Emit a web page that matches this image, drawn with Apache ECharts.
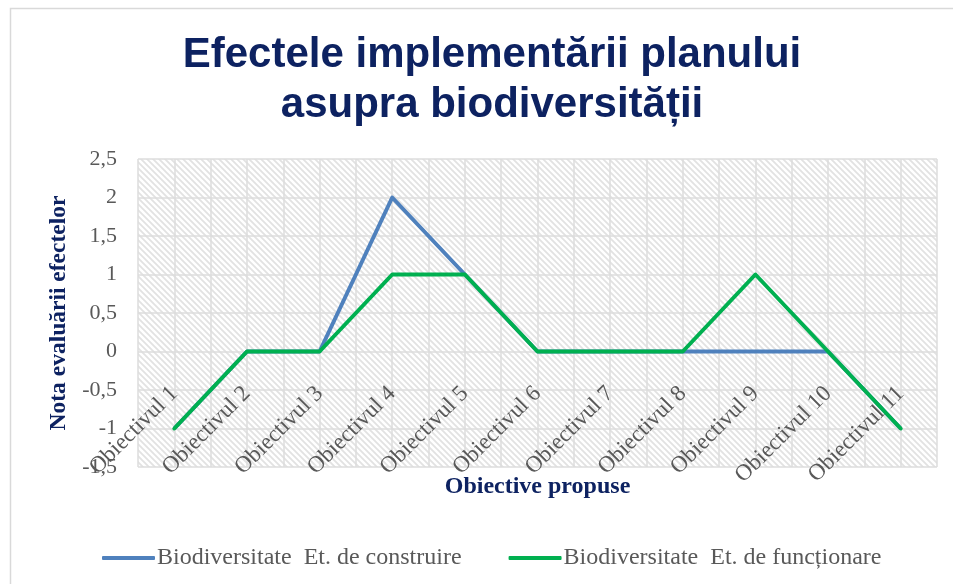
<!DOCTYPE html>
<html>
<head>
<meta charset="utf-8">
<script src="https://cdn.jsdelivr.net/npm/echarts@6/dist/echarts.min.js"></script>
<style>
  html, body { margin: 0; padding: 0; background: #fff; }
  #chart { width: 953px; height: 584px; }
</style>
</head>
<body>
<div id="chart"></div>
<script>
var objectives = ['Obiectivul 1', 'Obiectivul 2', 'Obiectivul 3', 'Obiectivul 4', 'Obiectivul 5',
    'Obiectivul 6', 'Obiectivul 7', 'Obiectivul 8', 'Obiectivul 9', 'Obiectivul 10', 'Obiectivul 11'];
var construire = [-1, 0, 0, 2, 1, 0, 0, 0, 0, 0, -1];
var functionare = [-1, 0, 0, 1, 1, 0, 0, 0, 1, 0, -1];
var halfSlots = ['', '', '', '', '', '', '', '', '', '', '', '', '', '', '', '', '', '', '', '', '', ''];

// hatched plot background (downward diagonal)
function hatch() {
    var s = 6;
    var c = document.createElement('canvas');
    c.width = s; c.height = s;
    var ctx = c.getContext('2d');
    ctx.fillStyle = '#ffffff';
    ctx.fillRect(0, 0, s, s);
    ctx.strokeStyle = '#e2e2e2';
    ctx.lineWidth = 1.8;
    ctx.beginPath();
    ctx.moveTo(-s, 0); ctx.lineTo(s, 2 * s);
    ctx.moveTo(0, 0); ctx.lineTo(s, s);
    ctx.moveTo(0, -s); ctx.lineTo(2 * s, s);
    ctx.stroke();
    return c;
}

var serif = '"Liberation Serif", "Times New Roman", serif';
var navy = '#0d2261';

var myChart = echarts.init(document.getElementById('chart'));
var option = {
    animation: false,
    backgroundColor: '#ffffff',
    title: {
        text: 'Efectele implementării planului\nasupra biodiversității',
        left: 487,
        top: 25,
        textAlign: 'center',
        textStyle: {
            fontFamily: '"Liberation Sans", Arial, sans-serif',
            fontWeight: 'bold',
            fontSize: 42,
            lineHeight: 50,
            color: navy
        }
    },
    graphic: [{
        type: 'rect',
        shape: {x: 10.5, y: 8.5, width: 960, height: 600},
        style: {fill: 'none', stroke: '#d9d9d9', lineWidth: 1.5},
        silent: true
    }],
    legend: {
        left: 97,
        top: 541,
        itemWidth: 53,
        itemHeight: 4,
        itemGap: 47,
        icon: 'roundRect',
        textStyle: {fontFamily: serif, fontSize: 24, color: '#595959', padding: [0, 0, 0, -3]},
        data: ['Biodiversitate  Et. de construire', 'Biodiversitate  Et. de funcționare']
    },
    grid: {
        left: 138, right: 16, top: 159, bottom: 117,
        outerBoundsMode: 'none',
        containLabel: false,
        show: true,
        borderWidth: 0,
        backgroundColor: {image: hatch(), repeat: 'repeat'}
    },
    xAxis: [
        {
            type: 'category',
            data: objectives,
            position: 'bottom',
            name: 'Obiective propuse',
            nameLocation: 'middle',
            nameGap: 8,
            nameMoveOverlap: false,
            nameTextStyle: {fontFamily: serif, fontWeight: 'bold', fontSize: 24, color: navy},
            axisLine: {show: false, onZero: false},
            axisTick: {show: false},
            axisLabel: {
                rotate: 45,
                margin: -77,
                interval: 0,
                fontFamily: serif,
                fontSize: 23,
                color: '#595959'
            },
            splitLine: {show: false}
        },
        {
            type: 'category',
            data: halfSlots,
            position: 'bottom',
            axisLine: {show: false, onZero: false},
            axisTick: {show: false},
            axisLabel: {show: false},
            splitLine: {show: true, lineStyle: {color: '#dcdcdc', width: 1.5}}
        }
    ],
    yAxis: {
        type: 'value',
        min: -1.5,
        max: 2.5,
        interval: 0.5,
        name: 'Nota evaluării efectelor',
        nameLocation: 'middle',
        nameGap: 66,
        nameTextStyle: {fontFamily: serif, fontWeight: 'bold', fontSize: 23.5, color: navy},
        axisLine: {show: false},
        axisTick: {show: false},
        axisLabel: {
            margin: 21,
            fontFamily: serif,
            fontSize: 22,
            color: '#595959',
            formatter: function (v) { return String(v).replace('.', ','); }
        },
        splitLine: {lineStyle: {color: '#dcdcdc', width: 1.5}}
    },
    series: [
        {
            name: 'Biodiversitate  Et. de construire',
            type: 'line',
            data: construire,
            symbol: 'none',
            color: '#4f81bd',
            lineStyle: {width: 4, color: '#4f81bd', join: 'round'}
        },
        {
            name: 'Biodiversitate  Et. de funcționare',
            type: 'line',
            data: functionare,
            symbol: 'none',
            color: '#00b050',
            lineStyle: {width: 4, color: '#00b050', join: 'round', cap: 'round'}
        }
    ]
};
myChart.setOption(option, true);
</script>
</body>
</html>
